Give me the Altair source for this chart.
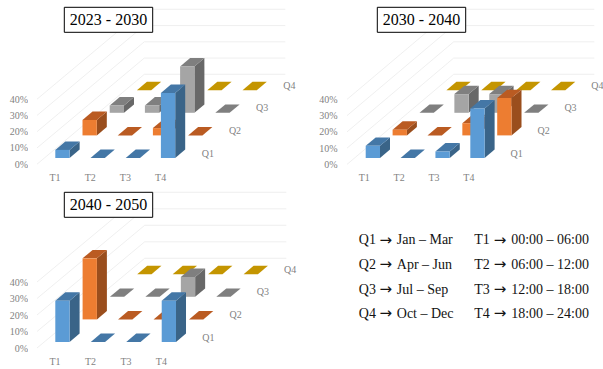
import altair as alt
import pandas as pd

# Share of events per quarter (rows) and time slot (columns), in percent.
# None means the combination has no bar at all.
SLOTS = ["T1", "T2", "T3", "T4"]
QUARTERS = ["Q1", "Q2", "Q3", "Q4"]

P2023_Q1 = [5, 0, 0, 40]
P2023_Q2 = [9.5, 0, 4.5, 0]
P2023_Q3 = [4.5, 4.5, 28.5, 0]
P2023_Q4 = [0, None, 0, 0]

P2030_Q1 = [7.5, 0, 4, 30.5]
P2030_Q2 = [3.5, 0, 7.5, 23]
P2030_Q3 = [0, 11.5, 11.5, 0]
P2030_Q4 = [0, 0, 0, 0]

P2040_Q1 = [25, 0, 0, 25]
P2040_Q2 = [37, 0, 0, 0]
P2040_Q3 = [0, 0, 12, 0]
P2040_Q4 = [0, 0, 0, 0]

TICKS = [0, 10, 20, 30, 40]
MONTH_RANGES = ["Jan – Mar", "Apr – Jun", "Jul – Sep", "Oct – Dec"]
HOUR_RANGES = ["00:00 – 06:00", "06:00 – 12:00", "12:00 – 18:00", "18:00 – 24:00"]
ARROW = "→"

FACE_COLORS = {
    "Q1 front": "#5B9BD5", "Q1 top": "#4477A6", "Q1 side": "#3A6488",
    "Q2 front": "#ED7D31", "Q2 top": "#BA5B22", "Q2 side": "#9A4E1D",
    "Q3 front": "#A5A5A5", "Q3 top": "#7F7F7F", "Q3 side": "#686868",
    "Q4 front": "#FFC000", "Q4 top": "#C49500", "Q4 side": "#A67E00",
}

# Oblique projection settings of each panel, in canvas pixels.
PANELS = [
    dict(title="2023 - 2030", rows=[P2023_Q1, P2023_Q2, P2023_Q3, P2023_Q4],
         ox=55.3, oy=158.0, step=35.2, row_dx=27.2, unit=1.625,
         floor_x=37.0, floor_y=164.2, wall_x=144.3, wall_end=285.3, wall_y=74.3,
         tick_x=28.0, tlabel_x=55.0, qlabel_dx=152.5, box=(64.3, 152.7, 7.3, 32.3)),
    dict(title="2030 - 2040", rows=[P2030_Q1, P2030_Q2, P2030_Q3, P2030_Q4],
         ox=365.7, oy=158.0, step=34.87, row_dx=26.9, unit=1.625,
         floor_x=347.0, floor_y=164.4, wall_x=453.7, wall_end=594.3, wall_y=74.3,
         tick_x=337.7, tlabel_x=364.3, qlabel_dx=151.0, box=(377.3, 465.7, 7.3, 32.3)),
    dict(title="2040 - 2050", rows=[P2040_Q1, P2040_Q2, P2040_Q3, P2040_Q4],
         ox=55.3, oy=342.0, step=35.47, row_dx=27.3, unit=1.65,
         floor_x=37.0, floor_y=348.0, wall_x=144.7, wall_end=286.3, wall_y=258.3,
         tick_x=28.0, tlabel_x=55.0, qlabel_dx=153.0, box=(64.3, 152.7, 192.3, 217.3)),
]
ROW_DY = 22.6
BAR_W = 14.3
DEPTH_X = 10.0
DEPTH_Y = 8.4
SERIF = "Liberation Serif"
AXIS_TEXT = "#7F7F7F"

X_SCALE = alt.Scale(domain=[0, 603], nice=False, zero=False)
Y_SCALE = alt.Scale(domain=[369, 0], nice=False, zero=False)
X = alt.X("x:Q", scale=X_SCALE, axis=None)
Y = alt.Y("y:Q", scale=Y_SCALE, axis=None, stack=None)
FILL = alt.Color(
    "face:N",
    scale=alt.Scale(domain=list(FACE_COLORS), range=list(FACE_COLORS.values())),
    legend=None,
)


def bar_layers(panel, row):
    """Front, side and top faces for one quarter's row of bars."""
    quarter = QUARTERS[row]
    tops, sides, fronts = [], [], []
    for col, value in enumerate(panel["rows"][row]):
        if value is None:
            continue
        left = panel["ox"] + col * panel["step"] + row * panel["row_dx"]
        right = left + BAR_W
        base = panel["oy"] - row * ROW_DY
        top = base - value * panel["unit"]
        bar = f"{panel['title']}-{quarter}-{col}"
        # top face: horizontal edges joined along the depth direction
        tops += [
            dict(bar=bar, face=f"{quarter} top", y=top, x=left, x2=right),
            dict(bar=bar, face=f"{quarter} top", y=top - DEPTH_Y, x=left + DEPTH_X, x2=right + DEPTH_X),
        ]
        if value > 0:
            sides += [
                dict(bar=bar, face=f"{quarter} side", x=right, y=top, y2=base),
                dict(bar=bar, face=f"{quarter} side", x=right + DEPTH_X, y=top - DEPTH_Y, y2=base - DEPTH_Y),
            ]
            fronts.append(dict(face=f"{quarter} front", x=left, x2=right, y=top, y2=base))
    layers = []
    if sides:
        layers.append(
            alt.Chart(pd.DataFrame(sides)).mark_area(interpolate="linear").encode(
                x=X, y=Y, y2="y2:Q", color=FILL, detail="bar:N"
            )
        )
    layers.append(
        alt.Chart(pd.DataFrame(tops)).mark_area(orient="horizontal", interpolate="linear").encode(
            y=alt.Y("y:Q", scale=Y_SCALE, axis=None),
            x=alt.X("x:Q", scale=X_SCALE, axis=None, stack=None),
            x2="x2:Q", color=FILL, detail="bar:N",
        )
    )
    if fronts:
        layers.append(
            alt.Chart(pd.DataFrame(fronts)).mark_rect().encode(x=X, x2="x2:Q", y=Y, y2="y2:Q", color=FILL)
        )
    return layers


def label_layer(rows, size, color, align="center", font=SERIF):
    # The tiny transparency keeps glyph edges greyscale rather than colour-fringed.
    return alt.Chart(pd.DataFrame(rows)).mark_text(
        font=font, fontSize=size, color=color, align=align, baseline="middle", opacity=0.99
    ).encode(x=X, y=Y, text="label:N")


layers = []
for p in PANELS:
    grid = []
    for i, tick in enumerate(TICKS):
        back = p["wall_y"] - i * p["unit"] * 10
        front = p["floor_y"] - i * p["unit"] * 10
        grid.append(dict(x=p["floor_x"], x2=p["wall_x"], y=front, y2=back))
        grid.append(dict(x=p["wall_x"], x2=p["wall_end"], y=back, y2=back))
    layers.append(
        alt.Chart(pd.DataFrame(grid)).mark_rule(color="#EBEBEB", strokeWidth=0.8).encode(
            x=X, x2="x2:Q", y=Y, y2="y2:Q"
        )
    )
    # Rows are painted back to front so nearer bars hide farther ones.
    for row in reversed(range(len(QUARTERS))):
        layers += bar_layers(p, row)

    layers.append(label_layer(
        [dict(label=f"{t}%", x=p["tick_x"], y=p["floor_y"] + 0.5 - i * p["unit"] * 10) for i, t in enumerate(TICKS)],
        10, AXIS_TEXT, align="right",
    ))
    layers.append(label_layer(
        [dict(label=s, x=p["tlabel_x"] + i * p["step"], y=p["oy"] + 19.6) for i, s in enumerate(SLOTS)],
        10, AXIS_TEXT,
    ))
    layers.append(label_layer(
        [dict(label=q, x=p["ox"] + p["qlabel_dx"] + r * p["row_dx"], y=p["oy"] - 4.4 - r * ROW_DY)
         for r, q in enumerate(QUARTERS)],
        10, AXIS_TEXT,
    ))
    x0, x1, y0, y1 = p["box"]
    layers.append(
        alt.Chart(pd.DataFrame([dict(x=x0, x2=x1, y=y0, y2=y1)])).mark_rect(
            fill="white", stroke="#000000", strokeWidth=1
        ).encode(x=X, x2="x2:Q", y=Y, y2="y2:Q")
    )
    layers.append(label_layer([dict(label=p["title"], x=(x0 + x1) / 2, y=(y0 + y1) / 2 + 0.5)], 16, "#000000"))

# Key that explains the quarter and time slot codes.
KEY_Y = [240.3, 264.5, 289.5, 313.7]
KEY_INK = "#111111"
for codes, ranges, code_x, arrow_x, range_x in (
    (QUARTERS, MONTH_RANGES, 358.8, 385.8, 396.8),
    (SLOTS, HOUR_RANGES, 474.3, 500.0, 511.2),
):
    layers.append(label_layer([dict(label=c, x=code_x, y=y) for c, y in zip(codes, KEY_Y)], 14, KEY_INK, align="left"))
    layers.append(label_layer([dict(label=ARROW, x=arrow_x, y=y - 0.5) for y in KEY_Y], 15, KEY_INK, font="DejaVu Sans"))
    layers.append(label_layer([dict(label=t, x=range_x, y=y) for t, y in zip(ranges, KEY_Y)], 14, KEY_INK, align="left"))

chart = alt.layer(*layers).properties(
    width=603, height=369, padding=0, background="white",
    autosize=alt.AutoSizeParams(type="none"),
).configure_view(stroke=None)

chart.save("out.html", embed_options={"renderer": "svg", "actions": False})
